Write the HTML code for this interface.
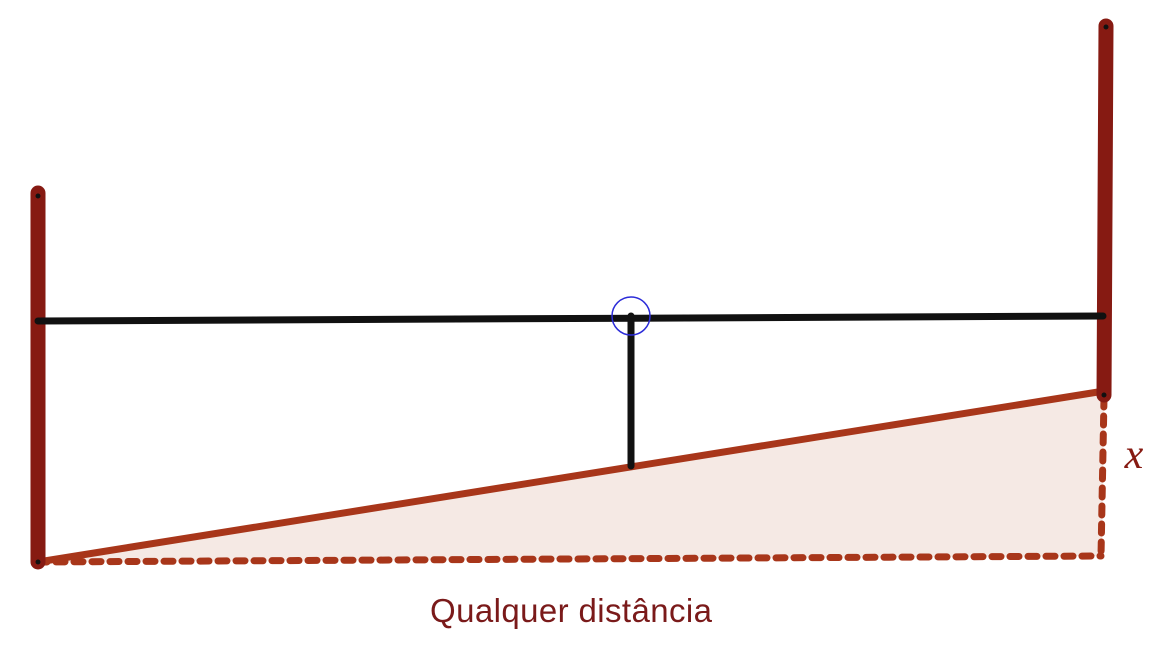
<!DOCTYPE html>
<html><head><style>html,body{margin:0;padding:0;background:#fff;}</style></head>
<body>
<svg width="1174" height="642" viewBox="0 0 1174 642" xmlns="http://www.w3.org/2000/svg">
<polygon points="38,562 1104,393 1102,556" fill="#f5e9e4"/>
<line x1="38" y1="562" x2="1101" y2="556" stroke="#a8361a" stroke-width="7" stroke-dasharray="9,9" stroke-linecap="round"/>
<line x1="1104" y1="398" x2="1101" y2="556" stroke="#a8361a" stroke-width="7" stroke-dasharray="9,9" stroke-linecap="round"/>
<line x1="38" y1="562" x2="1098" y2="392" stroke="#a8361a" stroke-width="7"/>
<line x1="38" y1="193" x2="38" y2="562" stroke="#861a12" stroke-width="15" stroke-linecap="round"/>
<line x1="1106" y1="26" x2="1104" y2="395" stroke="#861a12" stroke-width="15" stroke-linecap="round"/>
<line x1="38" y1="321" x2="1103" y2="316" stroke="#111" stroke-width="7" stroke-linecap="round"/>
<line x1="631" y1="316" x2="631" y2="466" stroke="#111" stroke-width="7" stroke-linecap="round"/>
<circle cx="631" cy="316" r="19" fill="none" stroke="#2b2bd8" stroke-width="1.5"/>
<g fill="#111"><circle cx="38" cy="196" r="2.5"/><circle cx="38" cy="321" r="2.5"/><circle cx="38" cy="562" r="2.5"/><circle cx="1103" cy="316" r="2.5"/><circle cx="1104" cy="395" r="2.5"/><circle cx="1106" cy="27" r="2.5"/><circle cx="631" cy="316" r="3"/></g>
<text x="1134" y="468" font-family="Liberation Serif, serif" font-style="italic" font-size="42" fill="#861a12" text-anchor="middle">x</text>
<text x="571" y="622" font-family="Liberation Sans, sans-serif" font-size="33" fill="#7a1a1a" text-anchor="middle" textLength="282">Qualquer distância</text>
</svg>
</body></html>
